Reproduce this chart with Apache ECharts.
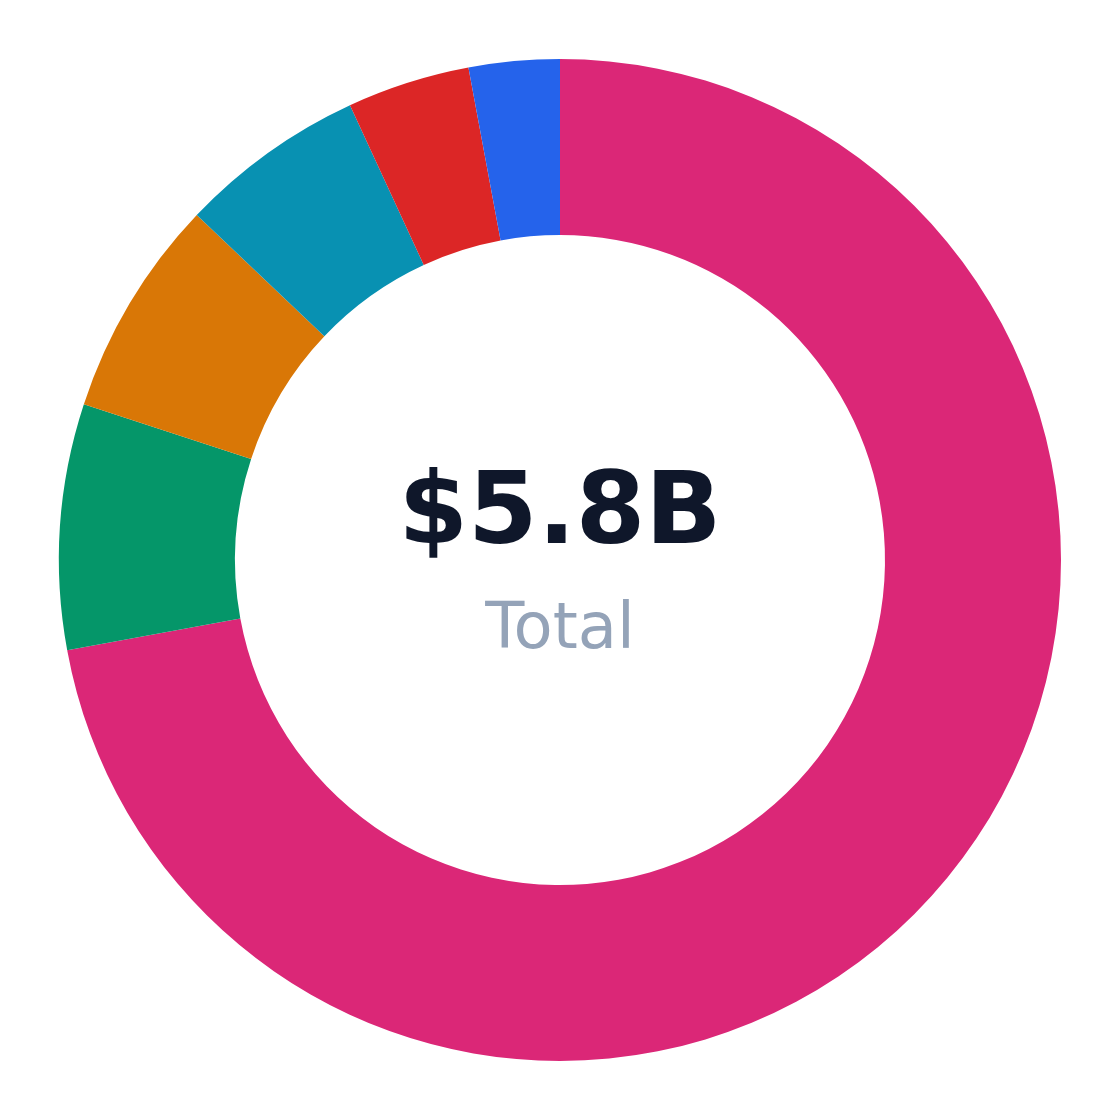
<!DOCTYPE html>
<html>
<head>
<meta charset="utf-8">
<script src="https://cdn.jsdelivr.net/npm/echarts@6/dist/echarts.min.js"></script>
<style>
  html, body { margin: 0; padding: 0; background: #fff; }
  #chart { width: 1120px; height: 1120px; }
</style>
</head>
<body>
<div id="chart"></div>
<script>
// slices, clockwise from 12 o'clock
var names = ['A', 'B', 'C', 'D', 'E', 'F'];
var values = [4.19, 0.46, 0.41, 0.35, 0.23, 0.17]; // $B
var colors = ['#db2777', '#059669', '#d97706', '#0891b2', '#dc2626', '#2563eb'];
var totalLabel = '$5.8B';
var subLabel = 'Total';

var pieData = [];
for (var i = 0; i < names.length; i++) {
  pieData.push({ name: names[i], value: values[i], itemStyle: { color: colors[i] } });
}

var chart = echarts.init(document.getElementById('chart'));
var option = {
  animation: false,
  series: [{
    type: 'pie',
    center: [560, 560],
    radius: [325, 501],
    startAngle: 90,
    clockwise: true,
    label: { show: false },
    labelLine: { show: false },
    itemStyle: { borderWidth: 0 },
    emphasis: { disabled: true },
    data: pieData
  }],
  graphic: [{
    type: 'text',
    left: 'center',
    top: 467,
    style: {
      text: totalLabel,
      font: 'bold 100px "DejaVu Sans"',
      fill: '#0f172a'
    }
  }, {
    type: 'text',
    left: 'center',
    top: 599,
    style: {
      text: subLabel,
      font: '64px "DejaVu Sans"',
      fill: '#94a3b8'
    }
  }]
};
chart.setOption(option);
</script>
</body>
</html>
